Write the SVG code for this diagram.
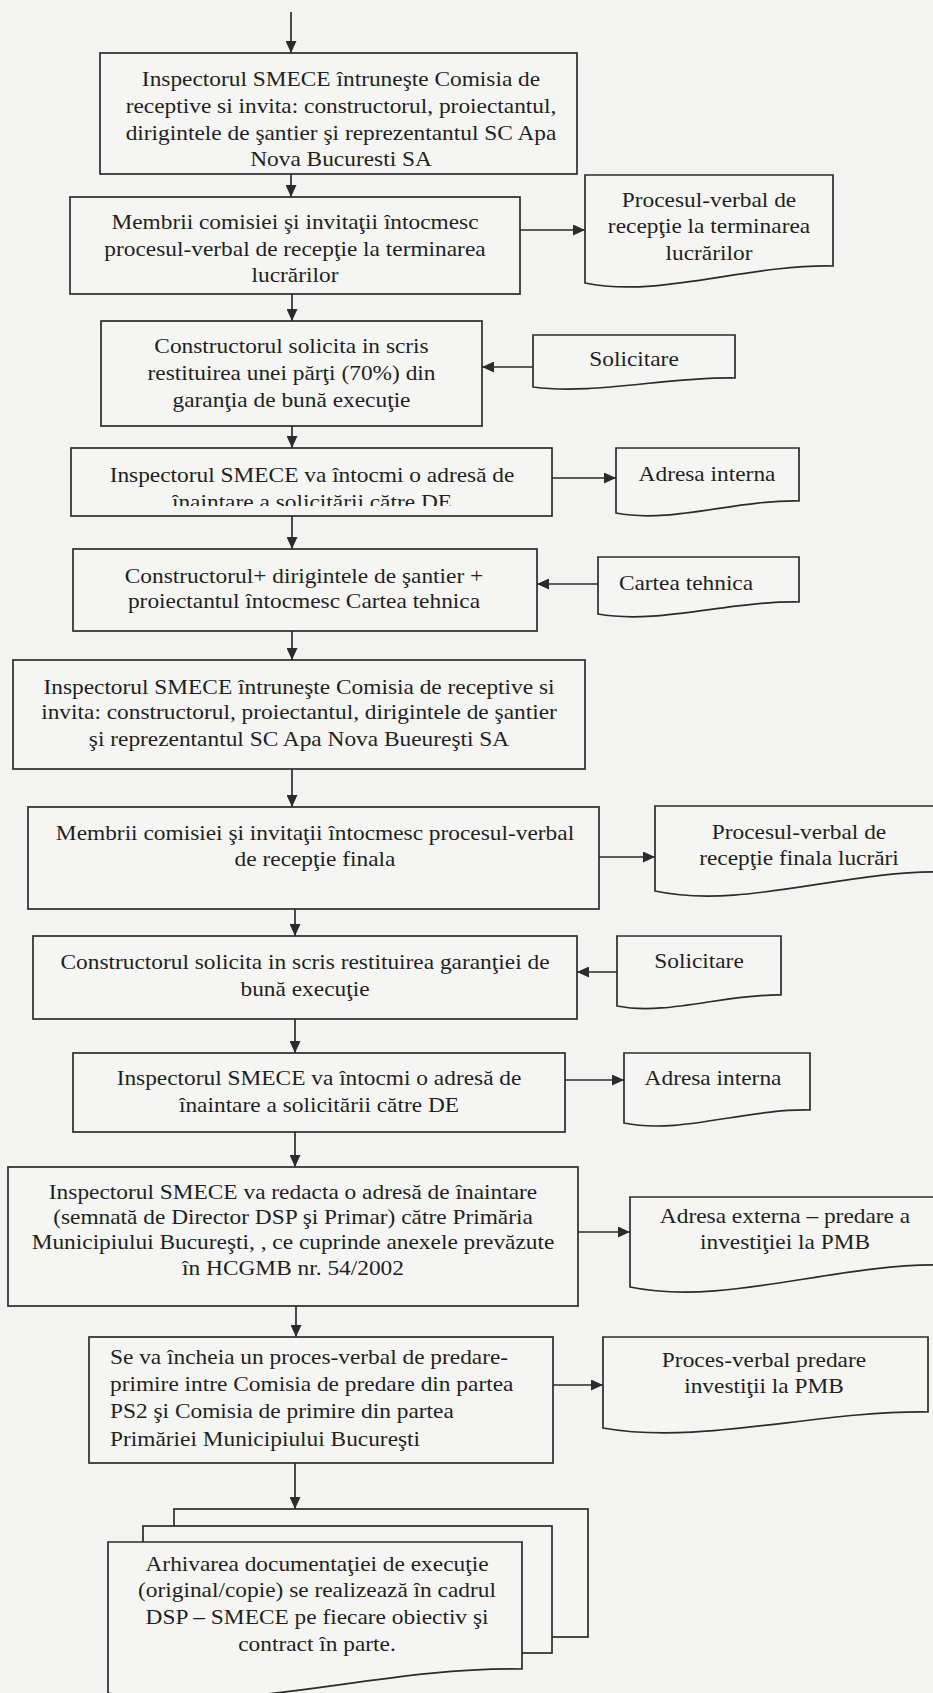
<svg xmlns="http://www.w3.org/2000/svg" width="933" height="1693" viewBox="0 0 933 1693">
  <defs>
    <style>
      .bg { fill: #f3f4f2; }
      .box { fill: #f5f6f4; stroke: #2b2b2b; stroke-width: 1.7; }
      .doc { fill: #f5f6f4; stroke: #2b2b2b; stroke-width: 1.7; stroke-linejoin: miter; }
      .flow { fill: none; stroke: #2b2b2b; stroke-width: 1.7; marker-end: url(#head); }
      text { font-family: "Liberation Serif", "Times New Roman", serif; font-size: 20.5px; fill: #1f1f1f; }
      .c text { text-anchor: middle; }
      .l text { text-anchor: start; }
    </style>
    <marker id="head" markerUnits="userSpaceOnUse" markerWidth="12" markerHeight="11" refX="12" refY="5.5" orient="auto">
      <path d="M0,0 L12,5.5 L0,11 Z" fill="#2b2b2b"/>
    </marker>
    <clipPath id="clip-b4">
      <rect x="71" y="448" width="481" height="58"/>
    </clipPath>
  </defs>

  <rect class="bg" x="0" y="0" width="933" height="1693"/>

  <!-- connectors -->
  <g id="connectors">
    <line class="flow" x1="291" y1="12" x2="291" y2="53"/>
    <line class="flow" x1="291" y1="174" x2="291" y2="197"/>
    <line class="flow" x1="520" y1="230" x2="585" y2="230"/>
    <line class="flow" x1="292" y1="294" x2="292" y2="321"/>
    <line class="flow" x1="533" y1="367" x2="482" y2="367"/>
    <line class="flow" x1="292" y1="426" x2="292" y2="448"/>
    <line class="flow" x1="552" y1="478" x2="616" y2="478"/>
    <line class="flow" x1="292" y1="516" x2="292" y2="549"/>
    <line class="flow" x1="598" y1="584" x2="537" y2="584"/>
    <line class="flow" x1="292" y1="631" x2="292" y2="660"/>
    <line class="flow" x1="292" y1="769" x2="292" y2="807"/>
    <line class="flow" x1="599" y1="857" x2="655" y2="857"/>
    <line class="flow" x1="295" y1="909" x2="295" y2="936"/>
    <line class="flow" x1="617" y1="972" x2="577" y2="972"/>
    <line class="flow" x1="295" y1="1019" x2="295" y2="1053"/>
    <line class="flow" x1="565" y1="1080" x2="624" y2="1080"/>
    <line class="flow" x1="295" y1="1132" x2="295" y2="1167"/>
    <line class="flow" x1="578" y1="1232" x2="630" y2="1232"/>
    <line class="flow" x1="296" y1="1306" x2="296" y2="1337"/>
    <line class="flow" x1="553" y1="1385" x2="603" y2="1385"/>
    <line class="flow" x1="295" y1="1463" x2="295" y2="1509"/>
  </g>

  <!-- process steps -->
  <g id="step-convocare-receptie">
    <rect class="box" x="100" y="53" width="477" height="121"/>
    <g class="c" transform="translate(341 0) scale(1.14 1)">
      <text x="0" y="86">Inspectorul SMECE întruneşte Comisia de</text>
      <text x="0" y="113">receptive si invita: constructorul, proiectantul,</text>
      <text x="0" y="140">dirigintele de şantier şi reprezentantul SC Apa</text>
      <text x="0" y="166">Nova Bucuresti SA</text>
    </g>
  </g>

  <g id="step-pv-terminare">
    <rect class="box" x="70" y="197" width="450" height="97"/>
    <g class="c" transform="translate(295 0) scale(1.14 1)">
      <text x="0" y="229">Membrii comisiei şi invitaţii întocmesc</text>
      <text x="0" y="256">procesul-verbal de recepţie la terminarea</text>
      <text x="0" y="282">lucrărilor</text>
    </g>
  </g>

  <g id="doc-pv-terminare">
    <path class="doc" d="M585,175 H833 V266 C746,264.3 659,298.3 585,283 Z"/>
    <g class="c" transform="translate(709 0) scale(1.14 1)">
      <text x="0" y="207">Procesul-verbal de</text>
      <text x="0" y="233">recepţie la terminarea</text>
      <text x="0" y="260">lucrărilor</text>
    </g>
  </g>

  <g id="step-restituire-70">
    <rect class="box" x="101" y="321" width="381" height="105"/>
    <g class="c" transform="translate(291.5 0) scale(1.14 1)">
      <text x="0" y="353">Constructorul solicita in scris</text>
      <text x="0" y="380">restituirea unei părţi (70%) din</text>
      <text x="0" y="407">garanţia de bună execuţie</text>
    </g>
  </g>

  <g id="doc-solicitare-1">
    <path class="doc" d="M533,335 H735 V378 C664,377 594,395 533,387 Z"/>
    <g class="c" transform="translate(634 0) scale(1.14 1)">
      <text x="0" y="366">Solicitare</text>
    </g>
  </g>

  <g id="step-adresa-de-1">
    <rect class="box" x="71" y="448" width="481" height="68"/>
    <g class="c" clip-path="url(#clip-b4)">
      <g transform="translate(312 0) scale(1.14 1)">
        <text x="0" y="482">Inspectorul SMECE va întocmi o adresă de</text>
        <text x="0" y="509">înaintare a solicitării către DE</text>
      </g>
    </g>
  </g>

  <g id="doc-adresa-interna-1">
    <path class="doc" d="M616,448 H799 V501 C735,499.8 671,523.8 616,513 Z"/>
    <g class="c" transform="translate(707 0) scale(1.14 1)">
      <text x="0" y="481">Adresa interna</text>
    </g>
  </g>

  <g id="step-cartea-tehnica">
    <rect class="box" x="73" y="549" width="464" height="82"/>
    <g class="c" transform="translate(304 0) scale(1.14 1)">
      <text x="0" y="583">Constructorul+ dirigintele de şantier +</text>
      <text x="0" y="608">proiectantul întocmesc Cartea tehnica</text>
    </g>
  </g>

  <g id="doc-cartea-tehnica">
    <path class="doc" d="M598,557 H799 V602 C729,600.8 658,624.8 598,614 Z"/>
    <g class="c" transform="translate(686 0) scale(1.14 1)">
      <text x="0" y="590">Cartea tehnica</text>
    </g>
  </g>

  <g id="step-convocare-finala">
    <rect class="box" x="13" y="660" width="572" height="109"/>
    <g class="c" transform="translate(299 0) scale(1.14 1)">
      <text x="0" y="694">Inspectorul SMECE întruneşte Comisia de receptive si</text>
      <text x="0" y="719">invita: constructorul, proiectantul, dirigintele de şantier</text>
      <text x="0" y="746">şi reprezentantul SC Apa Nova Bueureşti SA</text>
    </g>
  </g>

  <g id="step-pv-finala">
    <rect class="box" x="28" y="807" width="571" height="102"/>
    <g class="c" transform="translate(315 0) scale(1.14 1)">
      <text x="0" y="840">Membrii comisiei şi invitaţii întocmesc procesul-verbal</text>
      <text x="0" y="866">de recepţie finala</text>
    </g>
  </g>

  <g id="doc-pv-finala">
    <path class="doc" d="M655,806 H945 V872 C844,869.9 743,909.9 655,891 Z"/>
    <g class="c" transform="translate(799 0) scale(1.14 1)">
      <text x="0" y="839">Procesul-verbal de</text>
      <text x="0" y="865">recepţie finala lucrări</text>
    </g>
  </g>

  <g id="step-restituire-garantie">
    <rect class="box" x="33" y="936" width="544" height="83"/>
    <g class="c" transform="translate(305 0) scale(1.14 1)">
      <text x="0" y="969">Constructorul solicita in scris restituirea garanţiei de</text>
      <text x="0" y="996">bună execuţie</text>
    </g>
  </g>

  <g id="doc-solicitare-2">
    <path class="doc" d="M617,936 H781 V995 C724,993.9 667,1015.9 617,1006 Z"/>
    <g class="c" transform="translate(699 0) scale(1.14 1)">
      <text x="0" y="968">Solicitare</text>
    </g>
  </g>

  <g id="step-adresa-de-2">
    <rect class="box" x="73" y="1053" width="492" height="79"/>
    <g class="c" transform="translate(319 0) scale(1.14 1)">
      <text x="0" y="1085">Inspectorul SMECE va întocmi o adresă de</text>
      <text x="0" y="1112">înaintare a solicitării către DE</text>
    </g>
  </g>

  <g id="doc-adresa-interna-2">
    <path class="doc" d="M624,1053 H810 V1110 C745,1108.7 680,1134.7 624,1123 Z"/>
    <g class="c" transform="translate(713 0) scale(1.14 1)">
      <text x="0" y="1085">Adresa interna</text>
    </g>
  </g>

  <g id="step-adresa-pmb">
    <rect class="box" x="8" y="1167" width="570" height="139"/>
    <g class="c" transform="translate(293 0) scale(1.14 1)">
      <text x="0" y="1199">Inspectorul SMECE va redacta o adresă de înaintare</text>
      <text x="0" y="1224">(semnată de Director DSP şi Primar) către Primăria</text>
      <text x="0" y="1249">Municipiului Bucureşti, , ce cuprinde anexele prevăzute</text>
      <text x="0" y="1275">în HCGMB nr. 54/2002</text>
    </g>
  </g>

  <g id="doc-adresa-externa">
    <path class="doc" d="M630,1197 H945 V1265 C835,1262.8 725,1306.8 630,1287 Z"/>
    <g class="c" transform="translate(785 0) scale(1.14 1)">
      <text x="0" y="1223">Adresa externa – predare a</text>
      <text x="0" y="1249">investiţiei la PMB</text>
    </g>
  </g>

  <g id="step-pv-predare">
    <rect class="box" x="89" y="1337" width="464" height="126"/>
    <g class="l" transform="translate(110 0) scale(1.14 1)">
      <text x="0" y="1364">Se va încheia un proces-verbal de predare-</text>
      <text x="0" y="1391">primire intre Comisia de predare din partea</text>
      <text x="0" y="1418">PS2 şi Comisia de primire din partea</text>
      <text x="0" y="1446">Primăriei Municipiului Bucureşti</text>
    </g>
  </g>

  <g id="doc-pv-predare">
    <path class="doc" d="M603,1337 H928 V1412 C815,1410.4 701,1445.6 603,1428 Z"/>
    <g class="c" transform="translate(764 0) scale(1.14 1)">
      <text x="0" y="1367">Proces-verbal predare</text>
      <text x="0" y="1393">investiţii la PMB</text>
    </g>
  </g>

  <g id="step-arhivare">
    <rect class="doc" x="174" y="1509" width="414" height="128"/>
    <rect class="doc" x="143" y="1526" width="409" height="127"/>
    <path class="doc" d="M108,1542 H522 V1669 C377,1666.4 232,1717.4 108,1693 Z"/>
    <g class="c" transform="translate(317 0) scale(1.14 1)">
      <text x="0" y="1571">Arhivarea documentaţiei de execuţie</text>
      <text x="0" y="1597">(original/copie) se realizează în cadrul</text>
      <text x="0" y="1624">DSP – SMECE pe fiecare obiectiv şi</text>
      <text x="0" y="1651">contract în parte.</text>
    </g>
  </g>
</svg>
